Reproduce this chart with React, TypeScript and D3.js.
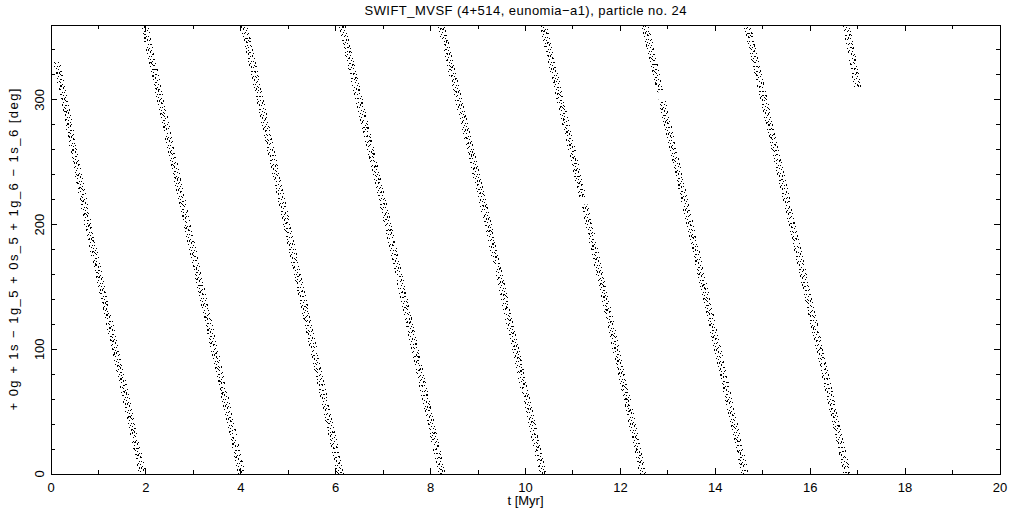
import React from "react";
import * as d3 from "d3";

// time (Myr) at which each band enters at the top / leaves at the bottom
const bandStartT = [0.13, 1.97, 4.07, 6.13, 8.22, 10.37, 12.52, 14.67, 16.76];
const bandStartDeg = [330, 360, 360, 360, 360, 360, 360, 360, 360];
const bandMidT = [0.78, 2.87, 4.97, 7.1, 9.21, 11.34, 13.47, 15.62, NaN]; // at 200 deg
const bandEndT = [1.93, 4.02, 6.1, 8.24, 10.37, 12.48, 14.63, 16.78, 17.0];
const bandEndDeg = [0, 0, 0, 0, 0, 0, 0, 0, 310];

// empty stretches inside a band (band index, from deg, to deg)
const gapBand = [5, 6];
const gapFrom = [216, 300];
const gapTo = [222, 306];

const xTicks = [0, 2, 4, 6, 8, 10, 12, 14, 16, 18, 20];
const xMinor = d3.range(0, 21, 1);
const yTicks = [0, 100, 200, 300];
const yMinor = d3.range(0, 361, 20);

const title = "SWIFT_MVSF (4+514, eunomia\u2212a1), particle no. 24";
const yLabel = "+ 0g + 1s \u2212 1g_5 + 0s_5 + 1g_6 \u2212 1s_6 [deg]";
const xLabel = "t [Myr]";

const W = 1021;
const H = 511;
const margin = { top: 25, right: 21, bottom: 37, left: 51 };

// speckle texture: parallel strands across each band
const strandDx = [-3, -1.5, 0, 1.5, 3];
const strandDash = [
  "1 3 1 5 2 4",
  "2 2 1 4 1 3",
  "1 2 2 5 1 2",
  "1 4 1 2 2 3",
  "1 5 1 3 1 4",
];

export default function App() {
  const x = d3.scaleLinear().domain([0, 20]).range([margin.left, W - margin.right]);
  const y = d3.scaleLinear().domain([0, 360]).range([H - margin.bottom, margin.top]);
  const font = "'Liberation Sans', Helvetica, Arial, sans-serif";

  const line = d3
    .line<[number, number]>()
    .x((d) => x(d[0]))
    .y((d) => y(d[1]));

  const bands = bandStartT.map((t0, i) => {
    const pts: [number, number][] = [[t0, bandStartDeg[i]]];
    if (!isNaN(bandMidT[i])) pts.push([bandMidT[i], 200]);
    pts.push([bandEndT[i], bandEndDeg[i]]);
    return pts;
  });

  const x0 = margin.left;
  const x1 = W - margin.right;
  const y0 = margin.top;
  const y1 = H - margin.bottom;

  return (
    <svg
      width={W}
      height={H}
      style={{ position: "absolute", left: 0, top: 0, background: "#fff" }}
    >
      <defs>
        {bands.map((_, i) => {
          const gi = gapBand.indexOf(i);
          if (gi < 0) return null;
          return (
            <clipPath id={`clip${i}`} key={i}>
              <rect x={0} y={0} width={W} height={y(gapTo[gi])} />
              <rect x={0} y={y(gapFrom[gi])} width={W} height={H - y(gapFrom[gi])} />
            </clipPath>
          );
        })}
      </defs>

      <text
        x={(x0 + x1) / 2}
        y={15}
        textAnchor="middle"
        fontFamily={font}
        fontSize={13}
        textLength={322}
        lengthAdjust="spacing"
      >
        {title}
      </text>

      {/* bands */}
      <g shapeRendering="crispEdges">
        {bands.map((pts, i) => (
          <g key={i} clipPath={gapBand.includes(i) ? `url(#clip${i})` : undefined}>
            {strandDx.map((dx, k) => (
              <path
                key={k}
                d={line(pts) ?? ""}
                transform={`translate(${dx},0)`}
                fill="none"
                stroke="#000"
                strokeWidth={1}
                strokeDasharray={strandDash[(k + i) % strandDash.length]}
                strokeDashoffset={k * 3 + i}
              />
            ))}
          </g>
        ))}
      </g>

      {/* frame */}
      <rect
        x={x0}
        y={y0}
        width={x1 - x0}
        height={y1 - y0}
        fill="none"
        stroke="#000"
        strokeWidth={1}
        shapeRendering="crispEdges"
      />

      {/* ticks */}
      <g stroke="#000" strokeWidth={1} shapeRendering="crispEdges">
        {xMinor.map((t) => {
          const len = xTicks.includes(t) ? 6 : 4;
          return (
            <g key={t}>
              <line x1={x(t)} x2={x(t)} y1={y1} y2={y1 - len} />
              <line x1={x(t)} x2={x(t)} y1={y0} y2={y0 + len} />
            </g>
          );
        })}
        {yMinor.map((v) => {
          const len = yTicks.includes(v) ? 6 : 4;
          return (
            <g key={v}>
              <line x1={x0} x2={x0 + len} y1={y(v)} y2={y(v)} />
              <line x1={x1} x2={x1 - len} y1={y(v)} y2={y(v)} />
            </g>
          );
        })}
      </g>

      {/* tick labels */}
      <g fontFamily={font} fontSize={13} fill="#000">
        {xTicks.map((t) => (
          <text key={t} x={x(t)} y={492} textAnchor="middle">
            {t}
          </text>
        ))}
        {yTicks.map((v) => (
          <text
            key={v}
            transform={`translate(44,${y(v)}) rotate(-90)`}
            textAnchor="middle"
          >
            {v}
          </text>
        ))}
      </g>

      <text
        x={(x0 + x1) / 2}
        y={505}
        textAnchor="middle"
        fontFamily={font}
        fontSize={13}
      >
        {xLabel}
      </text>
      <text
        transform={`translate(18,${(y0 + y1) / 2}) rotate(-90)`}
        textAnchor="middle"
        fontFamily={font}
        fontSize={13}
        textLength={322}
        lengthAdjust="spacing"
      >
        {yLabel}
      </text>
    </svg>
  );
}
